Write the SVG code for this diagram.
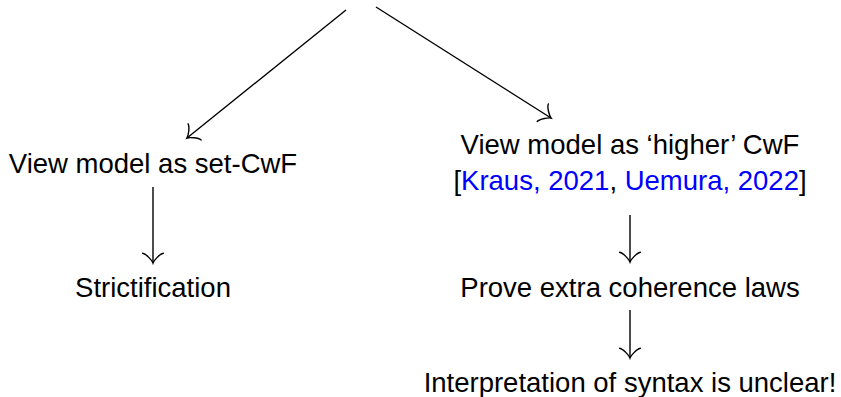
<svg xmlns="http://www.w3.org/2000/svg" width="841" height="397" viewBox="0 0 841 397">
  <style>
    text { font-family: "Liberation Sans", Arial, Helvetica, sans-serif; font-size: 27.5px; fill: #000; text-anchor: middle; }
    .cite { fill: #0000ff; }
    .edge { stroke: #000; stroke-width: 1.4; fill: none; marker-end: url(#to); }
  </style>
  <defs>
    <marker id="to" markerUnits="userSpaceOnUse" orient="auto" refX="0" refY="0" markerWidth="24" markerHeight="24" viewBox="-12 -12 24 24" overflow="visible">
      <path d="M -9.75,-10.4 C -9.1,-6.5 -1.95,-0.65 0,0 C -1.95,0.65 -9.1,6.5 -9.75,10.4" stroke="#000" stroke-width="1.4" fill="none" stroke-linecap="round"/>
    </marker>
  </defs>
  <g id="connectors">
    <line class="edge" x1="346" y1="10" x2="187" y2="138"/>
    <line class="edge" x1="376" y1="7" x2="551" y2="118"/>
    <line class="edge" x1="153" y1="187" x2="153" y2="263"/>
    <line class="edge" x1="630" y1="215" x2="630" y2="262"/>
    <line class="edge" x1="630" y1="310" x2="630" y2="358"/>
  </g>
  <g id="set-cwf">
    <text x="153" y="173">View model as set-CwF</text>
  </g>
  <g id="strictification">
    <text x="153" y="297">Strictification</text>
  </g>
  <g id="higher-cwf">
    <text x="630" y="154">View model as ‘higher’ CwF</text>
    <text x="630" y="190">[<tspan class="cite">Kraus, 2021</tspan>, <tspan class="cite">Uemura, 2022</tspan>]</text>
  </g>
  <g id="coherence">
    <text x="630" y="297">Prove extra coherence laws</text>
  </g>
  <g id="interpretation">
    <text x="630" y="392">Interpretation of syntax is unclear!</text>
  </g>
</svg>
